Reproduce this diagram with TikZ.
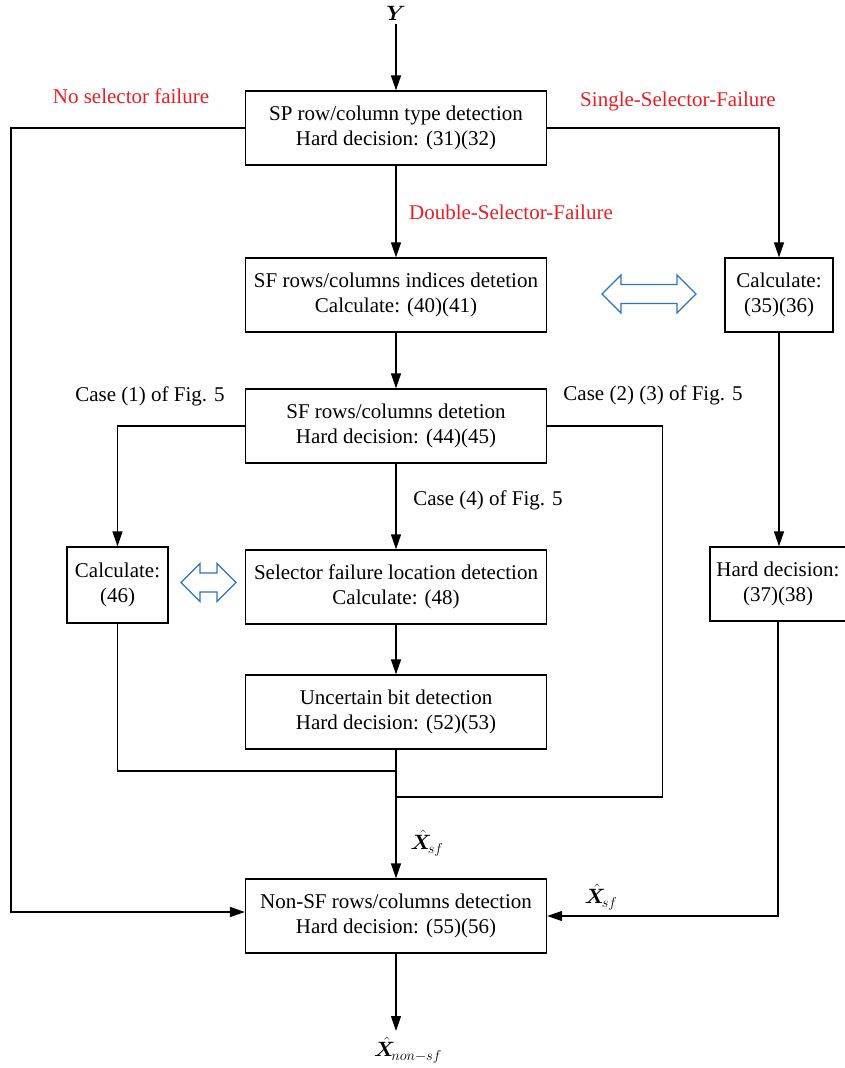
\documentclass[tikz,border=0pt]{standalone}
\usepackage{fontspec}
\setmainfont{Liberation Serif}
\usepackage{amsmath,bm}
\usetikzlibrary{arrows.meta}

\definecolor{failred}{RGB}{237,28,36}
\definecolor{eqblue}{RGB}{45,115,195}

\tikzset{
  procbox/.style={draw, line width=1.3pt, align=center, minimum width=301pt, minimum height=74pt, inner sep=2pt, font=\fontsize{21}{25}\selectfont},
  flow/.style={line width=1.3pt, -{Triangle[length=15pt,width=10pt]}},
  wire/.style={line width=1.3pt},
  caselbl/.style={font=\fontsize{21}{25}\selectfont},
  faillbl/.style={text=failred, font=\fontsize{21}{25}\selectfont},
  mathlbl/.style={font=\fontsize{20}{22}\selectfont},
  eqarrow/.style={draw=eqblue, line width=1.3pt, fill=white, line join=miter}
}

\begin{document}
\begin{tikzpicture}[x=1pt,y=-1pt]
      \useasboundingbox (0,0) rectangle (844,1068);

      % main column
      \node[mathlbl] (yin) at (396,13) {$\bm{Y}$};
      \node[procbox] (sptype) at (396,128) {SP row/column type detection\\Hard decision: (31)(32)};
      \node[procbox] (sfidx) at (396,295) {SF rows/columns indices detetion\\Calculate: (40)(41)};
      \node[procbox] (sfdet) at (396,426) {SF rows/columns detetion\\Hard decision: (44)(45)};
      \node[procbox] (sfloc) at (396,587) {Selector failure location detection\\Calculate: (48)};
      \node[procbox] (ubit) at (396,712) {Uncertain bit detection\\Hard decision: (52)(53)};
      \node[procbox] (nonsf) at (396,916) {Non-SF rows/columns detection\\Hard decision: (55)(56)};

      % side boxes
      \node[procbox, minimum width=108pt] (calcss) at (779,295) {Calculate:\\(35)(36)};
      \node[procbox, minimum width=136pt] (hardss) at (778,584) {Hard decision:\\(37)(38)};
      \node[procbox, minimum width=101pt, minimum height=76pt] (calcds) at (117.5,585) {Calculate:\\(46)};

      % equivalence arrows
      \draw[eqarrow] (602,294) -- ++(19,-19) -- ++(0,9.5) -- ++(56,0) -- ++(0,-9.5) -- ++(19,19)
        -- ++(-19,19) -- ++(0,-9.5) -- ++(-56,0) -- ++(0,9.5) -- cycle;
      \draw[eqarrow] (181,582.5) -- ++(19,-19) -- ++(0,9.5) -- ++(17,0) -- ++(0,-9.5) -- ++(19,19)
        -- ++(-19,19) -- ++(0,-9.5) -- ++(-17,0) -- ++(0,9.5) -- cycle;

      \coordinate (joinhi) at (396,771);
      \coordinate (joinlo) at (396,797);
      \coordinate (outend) at (396,1031);

      % connectors
      \draw[flow] (yin) -- (sptype);
      \draw[flow] (sptype.west) -- ++(-234,0) |- ([yshift=4pt]nonsf.west);
      \draw[flow] (sptype.east) -| (calcss.north);
      \draw[flow] (sptype) -- (sfidx);
      \draw[flow] (sfidx) -- (sfdet);
      \draw[flow] (sfdet.west) -| (calcds.north);
      \draw[wire] (sfdet.east) -- ++(115,0) |- (joinlo);
      \draw[flow] (sfdet) -- (sfloc);
      \draw[flow] (sfloc) -- (ubit);
      \draw[flow] (ubit) -- (nonsf);
      \draw[wire] (calcds.south) |- (joinhi);
      \draw[flow] (calcss.south) -- (calcss.south |- hardss.north);
      \draw[flow] (hardss.south) |- (nonsf.east);
      \draw[flow] (nonsf) -- (outend);

      % labels
      \node[faillbl] (nofail) at (131,96) {No selector failure};
      \node[faillbl] (ssfail) at (678,101) {Single-Selector-Failure};
      \node[faillbl] (dsfail) at (511,212) {Double-Selector-Failure};
      \node[caselbl] (caseone) at (150,396) {Case (1) of Fig. 5};
      \node[caselbl] (casetwo) at (653,395) {Case (2) (3) of Fig. 5};
      \node[caselbl] (casefour) at (488,500) {Case (4) of Fig. 5};
      \node[mathlbl] (xsfmid) at (427,843) {$\hat{\bm{X}}_{\!sf}$};
      \node[mathlbl] (xsfright) at (601,897) {$\hat{\bm{X}}_{\!sf}$};
      \node[mathlbl] (xout) at (408,1050) {$\hat{\bm{X}}_{\!non-sf}$};

    \end{tikzpicture}
\end{document}
